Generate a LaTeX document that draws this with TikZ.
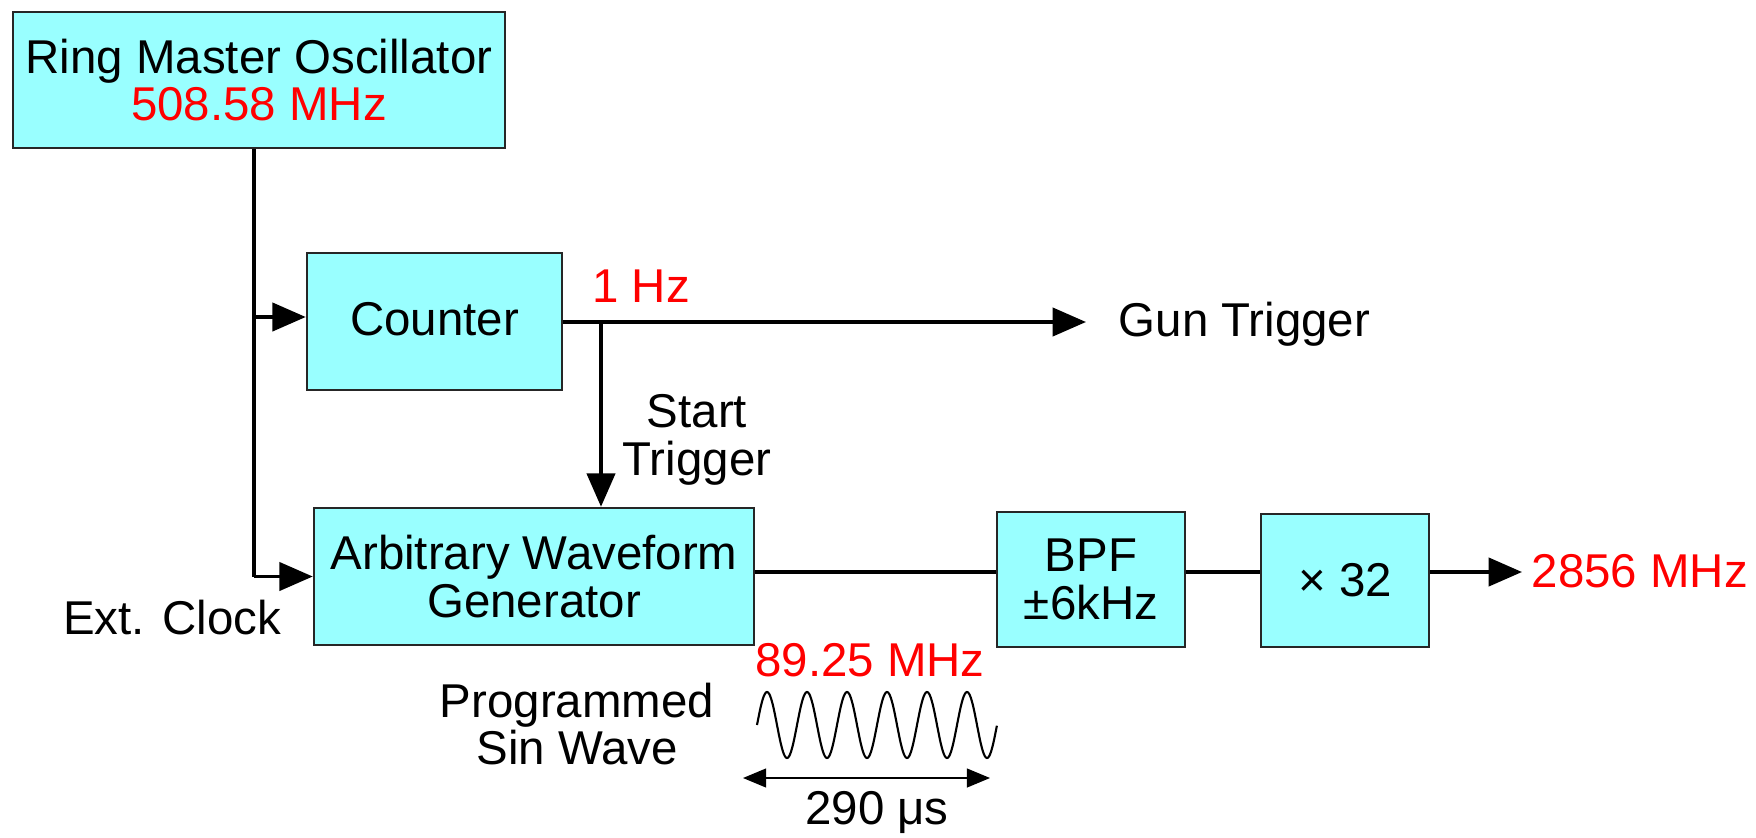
\documentclass[tikz,border=0pt]{standalone}
\usepackage{fontspec}
\setmainfont{Liberation Sans}
\usetikzlibrary{arrows.meta}
\definecolor{boxcyan}{RGB}{153,255,255}
\definecolor{freqred}{RGB}{255,0,0}

\begin{document}
\begin{tikzpicture}[
    every node/.style={font=\fontsize{13.5}{13.5}\selectfont},
    box/.style={draw=black!85, line width=0.7pt, fill=boxcyan, align=center, inner sep=0pt},
    wire/.style={line width=1.1pt},
    arr/.style={-{Triangle[length=9.5pt,width=8pt]}},
    freq/.style={text=freqred}
  ]
  \useasboundingbox (0,0) rectangle (17.56,-8.37);

  % blocks
  \node[box, minimum width=4.92cm, minimum height=1.36cm] (rmo) at (2.59,-0.80) {Ring Master Oscillator\\\textcolor{freqred}{508.58 MHz}};
  \node[box, minimum width=2.55cm, minimum height=1.37cm] (counter) at (4.345,-3.215) {\raisebox{1.5pt}{Counter}};
  \node[box, minimum width=4.40cm, minimum height=1.37cm] (awg) at (5.34,-5.765) {Arbitrary Waveform\\Generator};
  \node[box, minimum width=1.88cm, minimum height=1.35cm] (bpf) at (10.91,-5.795) {BPF\\±6kHz};
  \node[box, minimum width=1.68cm, minimum height=1.33cm] (mult) at (13.45,-5.805) {× 32};

  % labels
  \node[anchor=west, inner sep=0pt] (gun) at (11.18,-3.24) {Gun Trigger};
  \node[anchor=west, inner sep=0pt, freq] (out) at (15.31,-5.71) {2856 MHz};
  \node[freq] (onehz) at (6.41,-2.86) {1 Hz};
  \node[align=center] (start) at (6.97,-4.40) {Start\\Trigger};
  \node (clock) at (1.72,-6.18) {Ext. Clock};
  \node[freq] (carrier) at (8.70,-6.60) {89.25 MHz};
  \node[align=center] (prog) at (5.77,-7.24) {Programmed\\Sin Wave};
  \node (width) at (8.77,-8.12) {290 μs};

  % connections
  \coordinate (tap) at (2.54,-3.17);
  \coordinate (split) at (6.01,-3.22);
  \coordinate (sig) at (0,-5.72);
  \draw[wire] (rmo.south -| tap) -- (tap |- awg.west);
  \draw[wire, arr] (tap) -- (counter.west |- tap);
  \draw[wire, arr] (tap |- awg.west) -- (awg.west);
  \draw[wire, arr] (counter.east |- split) -- ([xshift=-3.2mm]gun.west |- split);
  \draw[wire, arr] (split) -- (awg.north -| split);
  \draw[wire] (awg.east |- sig) -- (bpf.west |- sig);
  \draw[wire] (bpf.east |- sig) -- (mult.west |- sig);
  \draw[wire, arr] (mult.east |- sig) -- ([xshift=-0.9mm]out.west |- sig);

  % programmed wave, 6 periods
  \draw[line width=0.6pt] plot[domain=0:2.4, samples=241, smooth] ({7.57+\x},{-7.25+0.33*sin(900*\x)});
  \coordinate (t0) at (7.43,-7.78);
  \coordinate (t1) at (9.90,-7.78);
  \draw[line width=0.4pt, {Triangle[length=6.6pt,width=5.4pt]}-{Triangle[length=6.6pt,width=5.4pt]}] (t0) -- (t1);
\end{tikzpicture}
\end{document}
